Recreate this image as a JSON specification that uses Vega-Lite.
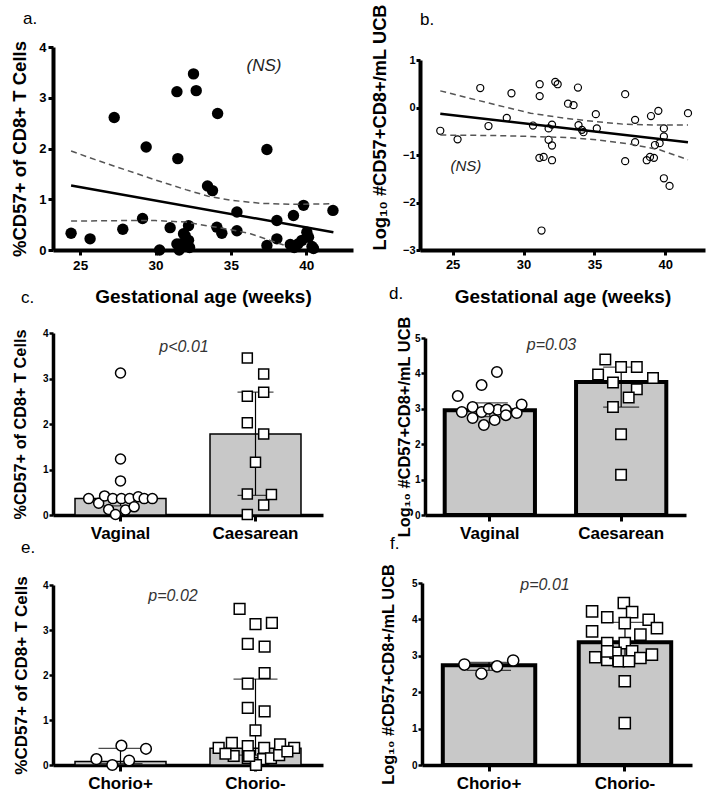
{
  "$schema": "https://vega.github.io/schema/vega-lite/v6.json",
  "background": "white",
  "padding": {"left": 10, "top": 3, "right": 5, "bottom": 5},
  "config": {
    "font": "Liberation Sans",
    "view": {"stroke": null},
    "axis": {"grid": false, "domainColor": "black", "tickColor": "black", "labelColor": "black", "titleColor": "black", "labelFontWeight": "bold", "titleFontWeight": "bold", "labelFont": "Liberation Sans", "titleFont": "Liberation Sans", "labelOverlap": false, "tickCount": 20},
    "title": {"anchor": "start", "frame": "group", "fontWeight": "normal", "fontSize": 17, "color": "black"}
  },
  "datasets": {
    "scatter_a": [
      {"ga": 24.4, "v": 0.33}, {"ga": 25.66, "v": 0.22}, {"ga": 27.26, "v": 2.61}, {"ga": 27.83, "v": 0.41}, {"ga": 29.14, "v": 0.62}, {"ga": 29.38, "v": 2.03}, {"ga": 30.27, "v": 0.0}, {"ga": 30.97, "v": 0.44}, {"ga": 31.42, "v": 3.12}, {"ga": 31.48, "v": 1.8}, {"ga": 31.42, "v": 0.12}, {"ga": 31.57, "v": 0.0}, {"ga": 31.86, "v": 0.32}, {"ga": 31.64, "v": 0.12}, {"ga": 32.19, "v": 0.48}, {"ga": 31.97, "v": 0.28}, {"ga": 32.19, "v": 0.19}, {"ga": 32.52, "v": 3.47}, {"ga": 32.7, "v": 3.14}, {"ga": 32.26, "v": 0.05}, {"ga": 33.45, "v": 1.26}, {"ga": 33.78, "v": 1.17}, {"ga": 34.12, "v": 2.69}, {"ga": 34.07, "v": 0.45}, {"ga": 34.4, "v": 0.33}, {"ga": 35.4, "v": 0.75}, {"ga": 35.4, "v": 0.38}, {"ga": 37.39, "v": 1.98}, {"ga": 37.39, "v": 0.09}, {"ga": 38.05, "v": 0.58}, {"ga": 38.05, "v": 0.22}, {"ga": 38.94, "v": 0.11}, {"ga": 39.15, "v": 0.68}, {"ga": 39.45, "v": 0.12}, {"ga": 39.82, "v": 0.88}, {"ga": 39.71, "v": 0.19}, {"ga": 40.04, "v": 0.35}, {"ga": 40.15, "v": 0.25}, {"ga": 40.38, "v": 0.07}, {"ga": 40.48, "v": 0.03}, {"ga": 41.77, "v": 0.78}, {"ga": 39.2, "v": 0.05}, {"ga": 32.1, "v": 0.1}
    ],
    "fit_a": [{"ga": 24.4, "v": 1.27}, {"ga": 41.8, "v": 0.35}],
    "ci_a": [
      {"bound": "upper", "ga": 24.4, "v": 1.95}, {"bound": "upper", "ga": 26, "v": 1.78}, {"bound": "upper", "ga": 28, "v": 1.58}, {"bound": "upper", "ga": 30, "v": 1.38}, {"bound": "upper", "ga": 32, "v": 1.19}, {"bound": "upper", "ga": 33.5, "v": 1.06}, {"bound": "upper", "ga": 35, "v": 0.98}, {"bound": "upper", "ga": 37, "v": 0.92}, {"bound": "upper", "ga": 39, "v": 0.9}, {"bound": "upper", "ga": 41.8, "v": 0.91},
      {"bound": "lower", "ga": 24.4, "v": 0.57}, {"bound": "lower", "ga": 28, "v": 0.58}, {"bound": "lower", "ga": 30, "v": 0.58}, {"bound": "lower", "ga": 32, "v": 0.55}, {"bound": "lower", "ga": 33.8, "v": 0.46}, {"bound": "lower", "ga": 35, "v": 0.4}, {"bound": "lower", "ga": 36.3, "v": 0.32}, {"bound": "lower", "ga": 37.6, "v": 0.19}, {"bound": "lower", "ga": 38.5, "v": 0.1}
    ],
    "scatter_b": [
      {"ga": 24.13, "v": -0.49}, {"ga": 25.35, "v": -0.67}, {"ga": 26.95, "v": 0.41}, {"ga": 27.53, "v": -0.39}, {"ga": 28.82, "v": -0.22}, {"ga": 29.15, "v": 0.3}, {"ga": 30.67, "v": -0.38}, {"ga": 31.14, "v": 0.49}, {"ga": 31.14, "v": 0.24}, {"ga": 31.12, "v": -1.06}, {"ga": 31.42, "v": -1.04}, {"ga": 31.27, "v": -2.59}, {"ga": 31.77, "v": -0.44}, {"ga": 32.01, "v": -0.36}, {"ga": 31.77, "v": -0.68}, {"ga": 32.01, "v": -0.8}, {"ga": 32.01, "v": -1.11}, {"ga": 32.24, "v": 0.54}, {"ga": 32.41, "v": 0.49}, {"ga": 33.14, "v": 0.08}, {"ga": 33.53, "v": 0.05}, {"ga": 33.84, "v": 0.42}, {"ga": 33.88, "v": -0.37}, {"ga": 34.12, "v": -0.47}, {"ga": 34.23, "v": -0.52}, {"ga": 35.1, "v": -0.14}, {"ga": 35.17, "v": -0.44}, {"ga": 37.17, "v": 0.28}, {"ga": 37.17, "v": -1.13}, {"ga": 37.87, "v": -0.26}, {"ga": 37.87, "v": -0.73}, {"ga": 38.69, "v": -1.11}, {"ga": 38.92, "v": -1.04}, {"ga": 38.99, "v": -0.18}, {"ga": 39.2, "v": -1.06}, {"ga": 39.27, "v": -0.79}, {"ga": 39.51, "v": -0.07}, {"ga": 39.6, "v": -0.75}, {"ga": 39.9, "v": -0.44}, {"ga": 39.9, "v": -0.61}, {"ga": 39.9, "v": -1.49}, {"ga": 40.3, "v": -1.65}, {"ga": 41.6, "v": -0.12}
    ],
    "fit_b": [{"ga": 24.13, "v": -0.13}, {"ga": 41.6, "v": -0.73}],
    "ci_b": [
      {"bound": "upper", "ga": 24.13, "v": 0.35}, {"bound": "upper", "ga": 26, "v": 0.21}, {"bound": "upper", "ga": 28, "v": 0.06}, {"bound": "upper", "ga": 30.5, "v": -0.12}, {"bound": "upper", "ga": 33, "v": -0.23}, {"bound": "upper", "ga": 35.2, "v": -0.3}, {"bound": "upper", "ga": 37, "v": -0.35}, {"bound": "upper", "ga": 39.6, "v": -0.37}, {"bound": "upper", "ga": 41.6, "v": -0.37},
      {"bound": "lower", "ga": 24.13, "v": -0.58}, {"bound": "lower", "ga": 28, "v": -0.59}, {"bound": "lower", "ga": 30.5, "v": -0.61}, {"bound": "lower", "ga": 33, "v": -0.63}, {"bound": "lower", "ga": 35.2, "v": -0.68}, {"bound": "lower", "ga": 37.5, "v": -0.77}, {"bound": "lower", "ga": 39.6, "v": -0.89}, {"bound": "lower", "ga": 41.6, "v": -1.1}
    ],
    "sum_c": [{"group": "Vaginal", "v": 0.36, "lo": 0.2, "hi": 0.42}, {"group": "Caesarean", "v": 1.78, "lo": 0.43, "hi": 2.7}],
    "pts_c": [
      {"group": "Vaginal", "j": -0.7, "v": 0.36}, {"group": "Vaginal", "j": -0.48, "v": 0.26}, {"group": "Vaginal", "j": -0.35, "v": 0.42}, {"group": "Vaginal", "j": -0.26, "v": 0.12}, {"group": "Vaginal", "j": -0.17, "v": 0.36}, {"group": "Vaginal", "j": -0.11, "v": 0.01}, {"group": "Vaginal", "j": 0.02, "v": 0.36}, {"group": "Vaginal", "j": 0.11, "v": 0.11}, {"group": "Vaginal", "j": 0.2, "v": 0.36}, {"group": "Vaginal", "j": 0.3, "v": 0.18}, {"group": "Vaginal", "j": 0.39, "v": 0.4}, {"group": "Vaginal", "j": 0.52, "v": 0.36}, {"group": "Vaginal", "j": 0.7, "v": 0.36}, {"group": "Vaginal", "j": 0.0, "v": 0.75}, {"group": "Vaginal", "j": 0.0, "v": 1.23}, {"group": "Vaginal", "j": 0.0, "v": 3.12},
      {"group": "Caesarean", "j": -0.18, "v": 3.45}, {"group": "Caesarean", "j": 0.18, "v": 3.1}, {"group": "Caesarean", "j": -0.18, "v": 2.61}, {"group": "Caesarean", "j": 0.18, "v": 2.7}, {"group": "Caesarean", "j": -0.18, "v": 2.03}, {"group": "Caesarean", "j": 0.18, "v": 1.78}, {"group": "Caesarean", "j": 0.0, "v": 1.16}, {"group": "Caesarean", "j": -0.18, "v": 0.46}, {"group": "Caesarean", "j": 0.35, "v": 0.45}, {"group": "Caesarean", "j": 0.18, "v": 0.22}, {"group": "Caesarean", "j": -0.18, "v": 0.01}
    ],
    "sum_d": [{"group": "Vaginal", "v": 2.96, "lo": 2.78, "hi": 3.17}, {"group": "Caesarean", "v": 3.76, "lo": 3.05, "hi": 4.18}],
    "pts_d": [
      {"group": "Vaginal", "j": 0.16, "v": 4.04}, {"group": "Vaginal", "j": -0.18, "v": 3.67}, {"group": "Vaginal", "j": -0.71, "v": 3.36}, {"group": "Vaginal", "j": -0.62, "v": 2.91}, {"group": "Vaginal", "j": -0.38, "v": 3.05}, {"group": "Vaginal", "j": -0.38, "v": 2.74}, {"group": "Vaginal", "j": -0.18, "v": 2.91}, {"group": "Vaginal", "j": -0.13, "v": 2.54}, {"group": "Vaginal", "j": 0.11, "v": 2.68}, {"group": "Vaginal", "j": 0.18, "v": 2.97}, {"group": "Vaginal", "j": 0.36, "v": 2.97}, {"group": "Vaginal", "j": 0.36, "v": 2.82}, {"group": "Vaginal", "j": 0.6, "v": 2.88}, {"group": "Vaginal", "j": 0.71, "v": 3.12}, {"group": "Vaginal", "j": -0.02, "v": 3.0},
      {"group": "Caesarean", "j": -0.35, "v": 4.39}, {"group": "Caesarean", "j": -0.51, "v": 3.97}, {"group": "Caesarean", "j": -0.18, "v": 3.74}, {"group": "Caesarean", "j": 0.0, "v": 4.18}, {"group": "Caesarean", "j": 0.35, "v": 4.18}, {"group": "Caesarean", "j": 0.71, "v": 3.87}, {"group": "Caesarean", "j": 0.35, "v": 3.55}, {"group": "Caesarean", "j": 0.17, "v": 3.32}, {"group": "Caesarean", "j": -0.18, "v": 3.05}, {"group": "Caesarean", "j": 0.0, "v": 2.28}, {"group": "Caesarean", "j": 0.0, "v": 1.14}
    ],
    "sum_e": [{"group": "Chorio+", "v": 0.08, "lo": 0.03, "hi": 0.37}, {"group": "Chorio-", "v": 0.37, "lo": 0.22, "hi": 1.91}],
    "pts_e": [
      {"group": "Chorio+", "j": -0.53, "v": 0.13}, {"group": "Chorio+", "j": -0.18, "v": 0.0}, {"group": "Chorio+", "j": 0.02, "v": 0.43}, {"group": "Chorio+", "j": 0.19, "v": 0.1}, {"group": "Chorio+", "j": 0.56, "v": 0.36},
      {"group": "Chorio-", "j": -0.35, "v": 3.47}, {"group": "Chorio-", "j": 0.0, "v": 3.13}, {"group": "Chorio-", "j": 0.36, "v": 3.16}, {"group": "Chorio-", "j": -0.17, "v": 2.69}, {"group": "Chorio-", "j": 0.2, "v": 2.63}, {"group": "Chorio-", "j": 0.2, "v": 2.04}, {"group": "Chorio-", "j": -0.17, "v": 1.81}, {"group": "Chorio-", "j": -0.17, "v": 1.27}, {"group": "Chorio-", "j": 0.2, "v": 1.19}, {"group": "Chorio-", "j": 0.0, "v": 0.77}, {"group": "Chorio-", "j": -0.81, "v": 0.38}, {"group": "Chorio-", "j": -0.52, "v": 0.49}, {"group": "Chorio-", "j": -0.17, "v": 0.42}, {"group": "Chorio-", "j": 0.19, "v": 0.38}, {"group": "Chorio-", "j": 0.54, "v": 0.46}, {"group": "Chorio-", "j": 0.85, "v": 0.38}, {"group": "Chorio-", "j": -0.48, "v": 0.2}, {"group": "Chorio-", "j": -0.17, "v": 0.16}, {"group": "Chorio-", "j": 0.01, "v": 0.04}, {"group": "Chorio-", "j": 0.17, "v": 0.13}, {"group": "Chorio-", "j": 0.34, "v": 0.15}, {"group": "Chorio-", "j": 0.52, "v": 0.22}, {"group": "Chorio-", "j": 0.01, "v": 0.0}, {"group": "Chorio-", "j": -0.66, "v": 0.25}, {"group": "Chorio-", "j": 0.7, "v": 0.3}, {"group": "Chorio-", "j": -0.14, "v": 0.2}
    ],
    "sum_f": [{"group": "Chorio+", "v": 2.74, "lo": 2.6, "hi": 2.82}, {"group": "Chorio-", "v": 3.37, "lo": 2.9, "hi": 3.92}],
    "pts_f": [
      {"group": "Chorio+", "j": -0.53, "v": 2.76}, {"group": "Chorio+", "j": -0.16, "v": 2.51}, {"group": "Chorio+", "j": 0.18, "v": 2.71}, {"group": "Chorio+", "j": 0.53, "v": 2.87},
      {"group": "Chorio-", "j": -0.02, "v": 4.45}, {"group": "Chorio-", "j": -0.71, "v": 4.22}, {"group": "Chorio-", "j": -0.38, "v": 4.06}, {"group": "Chorio-", "j": 0.16, "v": 4.2}, {"group": "Chorio-", "j": 0.52, "v": 3.99}, {"group": "Chorio-", "j": 0.7, "v": 3.76}, {"group": "Chorio-", "j": 0.0, "v": 3.9}, {"group": "Chorio-", "j": -0.71, "v": 3.67}, {"group": "Chorio-", "j": 0.34, "v": 3.58}, {"group": "Chorio-", "j": -0.38, "v": 3.35}, {"group": "Chorio-", "j": 0.0, "v": 3.35}, {"group": "Chorio-", "j": 0.16, "v": 3.12}, {"group": "Chorio-", "j": -0.64, "v": 2.96}, {"group": "Chorio-", "j": -0.38, "v": 2.89}, {"group": "Chorio-", "j": -0.2, "v": 3.08}, {"group": "Chorio-", "j": -0.13, "v": 2.85}, {"group": "Chorio-", "j": 0.09, "v": 2.85}, {"group": "Chorio-", "j": 0.34, "v": 2.94}, {"group": "Chorio-", "j": 0.59, "v": 3.03}, {"group": "Chorio-", "j": 0.0, "v": 2.3}, {"group": "Chorio-", "j": 0.0, "v": 1.15}, {"group": "Chorio-", "j": -0.38, "v": 3.12}
    ]
  },
  "bounds": "full",
  "spacing": -22,
  "vconcat": [
    {
      "hconcat": [
        {
          "width": 300, "height": 203,
          "title": {"text": "a.", "frame": "group", "anchor": "start", "dx": -30, "offset": 13},
          "layer": [
            {
              "data": {"name": "scatter_a"},
              "mark": {"type": "circle", "size": 130, "color": "black", "opacity": 1},
              "encoding": {
                "x": {"field": "ga", "type": "quantitative", "scale": {"domain": [23.2, 43.1], "nice": false, "zero": false}, "axis": {"values": [25, 30, 35, 40], "tickCount": 20, "format": "d", "title": "Gestational age (weeks)", "titleFontSize": 19, "titlePadding": 16, "labelFontSize": 13.5, "labelPadding": 3, "tickSize": 5, "tickWidth": 3, "domainWidth": 4}},
                "y": {"field": "v", "type": "quantitative", "scale": {"domain": [0, 4], "nice": false}, "axis": {"values": [0, 1, 2, 3, 4], "tickCount": 20, "format": "d", "labelOverlap": false, "title": "%CD57+ of CD8+ T Cells", "titleFontSize": 18.5, "titlePadding": 9, "labelFontSize": 13, "labelPadding": 2, "tickSize": 5, "tickWidth": 3, "domainWidth": 4}}
              }
            },
            {
              "data": {"name": "ci_a"},
              "mark": {"type": "line", "color": "#555555", "strokeWidth": 1.5, "strokeDash": [6, 4]},
              "encoding": {
                "x": {"field": "ga", "type": "quantitative"},
                "y": {"field": "v", "type": "quantitative"},
                "detail": {"field": "bound"}
              }
            },
            {
              "data": {"name": "fit_a"},
              "mark": {"type": "line", "color": "black", "strokeWidth": 2.5},
              "encoding": {
                "x": {"field": "ga", "type": "quantitative"},
                "y": {"field": "v", "type": "quantitative"}
              }
            },
            {
              "data": {"values": [{"label": "(NS)"}]},
              "mark": {"type": "text", "fontStyle": "italic", "fontSize": 17, "color": "#222222"},
              "encoding": {
                "text": {"field": "label"},
                "x": {"datum": 37.2, "type": "quantitative"},
                "y": {"datum": 3.63, "type": "quantitative"}
              }
            }
          ]
        },
        {
          "width": 285, "height": 203,
          "title": {"text": "b.", "frame": "group", "anchor": "start", "dx": 0, "offset": -25},
          "layer": [
            {
              "data": {"name": "scatter_b"},
              "mark": {"type": "point", "shape": "circle", "filled": false, "size": 50, "strokeWidth": 1.2, "color": "black", "opacity": 1},
              "encoding": {
                "x": {"field": "ga", "type": "quantitative", "scale": {"domain": [22.7, 42.8], "nice": false, "zero": false}, "axis": {"values": [25, 30, 35, 40], "tickCount": 20, "format": "d", "title": "Gestational age (weeks)", "titleFontSize": 19, "titlePadding": 16, "labelFontSize": 13, "labelPadding": 3, "tickSize": 5, "tickWidth": 3, "domainWidth": 4}},
                "y": {"field": "v", "type": "quantitative", "scale": {"domain": [-3, 1], "nice": false, "zero": false, "range": [203, 13]}, "axis": {"values": [-3, -2, -1, 0, 1], "tickCount": 20, "format": "d", "labelOverlap": false, "title": "Log₁₀ #CD57+CD8+/mL UCB", "titleAnchor": "start", "titleFontSize": 18.3, "titlePadding": 13, "labelFontSize": 11, "labelPadding": 1, "tickSize": 4, "tickWidth": 3, "domainWidth": 4}}
              }
            },
            {
              "data": {"name": "ci_b"},
              "mark": {"type": "line", "color": "#555555", "strokeWidth": 1.5, "strokeDash": [6, 4]},
              "encoding": {
                "x": {"field": "ga", "type": "quantitative"},
                "y": {"field": "v", "type": "quantitative"},
                "detail": {"field": "bound"}
              }
            },
            {
              "data": {"name": "fit_b"},
              "mark": {"type": "line", "color": "black", "strokeWidth": 2.5},
              "encoding": {
                "x": {"field": "ga", "type": "quantitative"},
                "y": {"field": "v", "type": "quantitative"}
              }
            },
            {
              "data": {"values": [{"label": "(NS)"}]},
              "mark": {"type": "text", "fontStyle": "italic", "fontSize": 15, "color": "#222222"},
              "encoding": {
                "text": {"field": "label"},
                "x": {"datum": 25.94, "type": "quantitative"},
                "y": {"datum": -1.24, "type": "quantitative"}
              }
            }
          ]
        }
      ],
      "spacing": 17
    },
    {
      "vconcat": [
        {
          "hconcat": [
            {
              "width": 270, "height": 182,
              "title": {"text": "c.", "frame": "group", "anchor": "start", "dx": -32, "offset": 21},
              "resolve": {"scale": {"xOffset": "independent"}},
              "layer": [
                {
                  "data": {"name": "sum_c"},
                  "mark": {"type": "bar", "fill": "#c8c8c8", "stroke": "black", "strokeWidth": 1.5},
                  "encoding": {
                    "x": {"field": "group", "type": "nominal", "scale": {"domain": ["Vaginal", "Caesarean"], "paddingInner": 0.326, "paddingOuter": 0.163}, "axis": {"title": null, "labelAngle": 0, "labelFontSize": 17, "labelPadding": 4, "tickSize": 6, "tickWidth": 3, "domainWidth": 3.5}},
                    "y": {"field": "v", "type": "quantitative", "scale": {"domain": [0, 4], "nice": false}, "axis": {"values": [0, 1, 2, 3, 4], "tickCount": 20, "format": "d", "labelOverlap": false, "title": "%CD57+ of CD8+ T Cells", "titleFontSize": 16.3, "titlePadding": 14, "labelFontSize": 10, "labelPadding": 1, "tickSize": 4, "tickWidth": 2.5, "domainWidth": 3.5}}
                  }
                },
                {
                  "data": {"name": "sum_c"},
                  "mark": {"type": "rule", "color": "black", "strokeWidth": 1.2},
                  "encoding": {
                    "x": {"field": "group", "type": "nominal"},
                    "y": {"field": "lo", "type": "quantitative"},
                    "y2": {"field": "hi"}
                  }
                },
                {
                  "data": {"name": "sum_c"},
                  "mark": {"type": "tick", "color": "black", "size": 36, "thickness": 1.2},
                  "encoding": {
                    "x": {"field": "group", "type": "nominal"},
                    "y": {"field": "lo", "type": "quantitative"}
                  }
                },
                {
                  "data": {"name": "sum_c"},
                  "mark": {"type": "tick", "color": "black", "size": 36, "thickness": 1.2},
                  "encoding": {
                    "x": {"field": "group", "type": "nominal"},
                    "y": {"field": "hi", "type": "quantitative"}
                  }
                },
                {
                  "data": {"name": "pts_c"},
                  "mark": {"type": "point", "filled": true, "fill": "white", "stroke": "black", "strokeWidth": 1.5, "size": 100, "opacity": 1},
                  "encoding": {
                    "x": {"field": "group", "type": "nominal"},
                    "xOffset": {"field": "j", "type": "quantitative", "scale": {"domain": [-1, 1], "range": [0, 91]}},
                    "y": {"field": "v", "type": "quantitative"},
                    "shape": {"field": "group", "type": "nominal", "scale": {"domain": ["Vaginal", "Caesarean"], "range": ["circle", "square"]}, "legend": null}
                  }
                },
                {
                  "data": {"values": [{"label": "p<0.01"}]},
                  "mark": {"type": "text", "fontStyle": "italic", "fontSize": 16, "color": "#333333", "dx": -4},
                  "encoding": {
                    "text": {"field": "label"},
                    "y": {"datum": 3.69, "type": "quantitative"}
                  }
                }
              ]
            },
            {
              "width": 261, "height": 182,
              "title": {"text": "d.", "frame": "group", "anchor": "start", "dx": -36, "offset": 13},
              "resolve": {"scale": {"xOffset": "independent"}},
              "layer": [
                {
                  "data": {"name": "sum_d"},
                  "mark": {"type": "bar", "fill": "#c8c8c8", "stroke": "black", "strokeWidth": 4},
                  "encoding": {
                    "x": {"field": "group", "type": "nominal", "scale": {"domain": ["Vaginal", "Caesarean"], "paddingInner": 0.313, "paddingOuter": 0.15}, "axis": {"title": null, "labelAngle": 0, "labelFontSize": 17, "labelPadding": 4, "tickSize": 6, "tickWidth": 3, "domainWidth": 3.5}},
                    "y": {"field": "v", "type": "quantitative", "scale": {"domain": [0, 5], "nice": false, "range": [182, 5]}, "axis": {"values": [0, 1, 2, 3, 4, 5], "tickCount": 20, "format": "d", "labelOverlap": false, "title": "Log₁₀ #CD57+CD8+/mL UCB", "titleFontSize": 16.4, "titlePadding": 2, "labelFontSize": 10, "labelPadding": 1, "tickSize": 4, "tickWidth": 2.5, "domainWidth": 3.5}}
                  }
                },
                {
                  "data": {"name": "sum_d"},
                  "mark": {"type": "rule", "color": "black", "strokeWidth": 1.2},
                  "encoding": {
                    "x": {"field": "group", "type": "nominal"},
                    "y": {"field": "lo", "type": "quantitative"},
                    "y2": {"field": "hi"}
                  }
                },
                {
                  "data": {"name": "sum_d"},
                  "mark": {"type": "tick", "color": "black", "size": 36, "thickness": 1.2},
                  "encoding": {
                    "x": {"field": "group", "type": "nominal"},
                    "y": {"field": "lo", "type": "quantitative"}
                  }
                },
                {
                  "data": {"name": "sum_d"},
                  "mark": {"type": "tick", "color": "black", "size": 36, "thickness": 1.2},
                  "encoding": {
                    "x": {"field": "group", "type": "nominal"},
                    "y": {"field": "hi", "type": "quantitative"}
                  }
                },
                {
                  "data": {"name": "pts_d"},
                  "mark": {"type": "point", "filled": true, "fill": "white", "stroke": "black", "strokeWidth": 1.5, "size": 110, "opacity": 1},
                  "encoding": {
                    "x": {"field": "group", "type": "nominal"},
                    "xOffset": {"field": "j", "type": "quantitative", "scale": {"domain": [-1, 1], "range": [0, 90]}},
                    "y": {"field": "v", "type": "quantitative"},
                    "shape": {"field": "group", "type": "nominal", "scale": {"domain": ["Vaginal", "Caesarean"], "range": ["circle", "square"]}, "legend": null}
                  }
                },
                {
                  "data": {"values": [{"label": "p=0.03"}]},
                  "mark": {"type": "text", "fontStyle": "italic", "fontSize": 16, "color": "#333333", "dx": -4},
                  "encoding": {
                    "text": {"field": "label"},
                    "y": {"datum": 4.8, "type": "quantitative"}
                  }
                }
              ]
            }
          ],
          "spacing": 66
        },
        {
          "hconcat": [
            {
              "width": 270, "height": 182,
              "title": {"text": "e.", "frame": "group", "anchor": "start", "dx": -32, "offset": 19},
              "resolve": {"scale": {"xOffset": "independent"}},
              "layer": [
                {
                  "data": {"name": "sum_e"},
                  "mark": {"type": "bar", "fill": "#c8c8c8", "stroke": "black", "strokeWidth": 1.5},
                  "encoding": {
                    "x": {"field": "group", "type": "nominal", "scale": {"domain": ["Chorio+", "Chorio-"], "paddingInner": 0.326, "paddingOuter": 0.163}, "axis": {"title": null, "labelAngle": 0, "labelFontSize": 17, "labelPadding": 4, "tickSize": 6, "tickWidth": 3, "domainWidth": 3.5}},
                    "y": {"field": "v", "type": "quantitative", "scale": {"domain": [0, 4], "nice": false, "range": [182, 2]}, "axis": {"values": [0, 1, 2, 3, 4], "tickCount": 20, "format": "d", "labelOverlap": false, "title": "%CD57+ of CD8+ T Cells", "titleFontSize": 17, "titlePadding": 12, "labelFontSize": 10, "labelPadding": 1, "tickSize": 4, "tickWidth": 2.5, "domainWidth": 3.5}}
                  }
                },
                {
                  "data": {"name": "sum_e"},
                  "mark": {"type": "rule", "color": "black", "strokeWidth": 1.2},
                  "encoding": {
                    "x": {"field": "group", "type": "nominal"},
                    "y": {"field": "lo", "type": "quantitative"},
                    "y2": {"field": "hi"}
                  }
                },
                {
                  "data": {"name": "sum_e"},
                  "mark": {"type": "tick", "color": "black", "size": 44, "thickness": 1.2},
                  "encoding": {
                    "x": {"field": "group", "type": "nominal"},
                    "y": {"field": "lo", "type": "quantitative"}
                  }
                },
                {
                  "data": {"name": "sum_e"},
                  "mark": {"type": "tick", "color": "black", "size": 44, "thickness": 1.2},
                  "encoding": {
                    "x": {"field": "group", "type": "nominal"},
                    "y": {"field": "hi", "type": "quantitative"}
                  }
                },
                {
                  "data": {"name": "pts_e"},
                  "mark": {"type": "point", "filled": true, "fill": "white", "stroke": "black", "strokeWidth": 1.5, "size": 115, "opacity": 1},
                  "encoding": {
                    "x": {"field": "group", "type": "nominal"},
                    "xOffset": {"field": "j", "type": "quantitative", "scale": {"domain": [-1, 1], "range": [0, 91]}},
                    "y": {"field": "v", "type": "quantitative"},
                    "shape": {"field": "group", "type": "nominal", "scale": {"domain": ["Chorio+", "Chorio-"], "range": ["circle", "square"]}, "legend": null}
                  }
                },
                {
                  "data": {"values": [{"label": "p=0.02"}]},
                  "mark": {"type": "text", "fontStyle": "italic", "fontSize": 16, "color": "#333333", "dx": -15},
                  "encoding": {
                    "text": {"field": "label"},
                    "y": {"datum": 3.76, "type": "quantitative"}
                  }
                }
              ]
            },
            {
              "width": 270, "height": 182,
              "title": {"text": "f.", "frame": "group", "anchor": "start", "dx": -32, "offset": 11},
              "resolve": {"scale": {"xOffset": "independent"}},
              "layer": [
                {
                  "data": {"name": "sum_f"},
                  "mark": {"type": "bar", "fill": "#c8c8c8", "stroke": "black", "strokeWidth": 4},
                  "encoding": {
                    "x": {"field": "group", "type": "nominal", "scale": {"domain": ["Chorio+", "Chorio-"], "paddingInner": 0.32, "paddingOuter": 0.153}, "axis": {"title": null, "labelAngle": 0, "labelFontSize": 17, "labelPadding": 4, "tickSize": 6, "tickWidth": 3, "domainWidth": 3.5}},
                    "y": {"field": "v", "type": "quantitative", "scale": {"domain": [0, 5], "nice": false}, "axis": {"values": [0, 1, 2, 3, 4, 5], "tickCount": 20, "format": "d", "labelOverlap": false, "title": "Log₁₀ #CD57+CD8+/mL UCB", "titleFontSize": 16.4, "titlePadding": 15, "labelFontSize": 10, "labelPadding": 1, "tickSize": 4, "tickWidth": 2.5, "domainWidth": 3.5}}
                  }
                },
                {
                  "data": {"name": "sum_f"},
                  "mark": {"type": "rule", "color": "black", "strokeWidth": 1.2},
                  "encoding": {
                    "x": {"field": "group", "type": "nominal"},
                    "y": {"field": "lo", "type": "quantitative"},
                    "y2": {"field": "hi"}
                  }
                },
                {
                  "data": {"name": "sum_f"},
                  "mark": {"type": "tick", "color": "black", "size": 44, "thickness": 1.2},
                  "encoding": {
                    "x": {"field": "group", "type": "nominal"},
                    "y": {"field": "lo", "type": "quantitative"}
                  }
                },
                {
                  "data": {"name": "sum_f"},
                  "mark": {"type": "tick", "color": "black", "size": 44, "thickness": 1.2},
                  "encoding": {
                    "x": {"field": "group", "type": "nominal"},
                    "y": {"field": "hi", "type": "quantitative"}
                  }
                },
                {
                  "data": {"name": "pts_f"},
                  "mark": {"type": "point", "filled": true, "fill": "white", "stroke": "black", "strokeWidth": 1.5, "size": 125, "opacity": 1},
                  "encoding": {
                    "x": {"field": "group", "type": "nominal"},
                    "xOffset": {"field": "j", "type": "quantitative", "scale": {"domain": [-1, 1], "range": [0, 92]}},
                    "y": {"field": "v", "type": "quantitative"},
                    "shape": {"field": "group", "type": "nominal", "scale": {"domain": ["Chorio+", "Chorio-"], "range": ["circle", "square"]}, "legend": null}
                  }
                },
                {
                  "data": {"values": [{"label": "p=0.01"}]},
                  "mark": {"type": "text", "fontStyle": "italic", "fontSize": 16, "color": "#333333", "dx": -12},
                  "encoding": {
                    "text": {"field": "label"},
                    "y": {"datum": 4.94, "type": "quantitative"}
                  }
                }
              ]
            }
          ],
          "spacing": 57
        }
      ],
      "spacing": -7
    }
  ]
}
